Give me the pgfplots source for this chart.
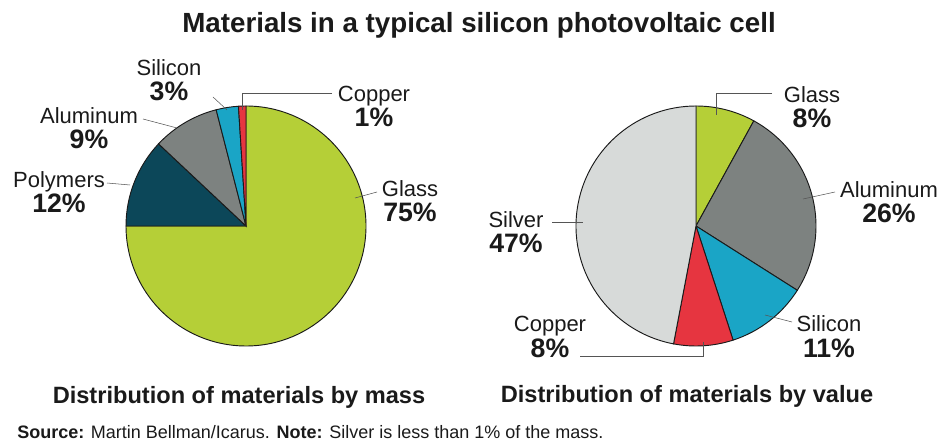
\documentclass[border=0pt]{standalone}
\usepackage{pgfplots}
\pgfplotsset{compat=1.18}
\usepackage{pgfplotstable}
\usepackage{fontspec}
\setmainfont{Liberation Sans}

\definecolor{glass}{HTML}{B5CF37}
\definecolor{polymers}{HTML}{0C4759}
\definecolor{aluminum}{HTML}{7D8280}
\definecolor{silicon}{HTML}{1AA5C6}
\definecolor{copper}{HTML}{E63540}
\definecolor{silver}{HTML}{D7DAD9}
\definecolor{leader}{HTML}{555555}
\definecolor{ink}{HTML}{1A1A1A}

% shares, clockwise from 12 o'clock
\pgfplotstableread{
name     value color
Glass    75    glass
Polymers 12    polymers
Aluminum 9     aluminum
Silicon  3     silicon
Copper   1     copper
}\massdata
\pgfplotstableread{
name     value color
Glass    8     glass
Aluminum 26    aluminum
Silicon  11    silicon
Copper   8     copper
Silver   47    silver
}\valuedata

% cumulative angles: \<prefix>start<i>, \<prefix>delta<i>, \<prefix>color<i>
\newcommand\prepie[2]{%
  \pgfplotstablegetrowsof{#1}%
  \pgfmathtruncatemacro\lastrow{\pgfplotsretval-1}%
  \gdef\cumangle{90}%
  \foreach \i in {0,...,\lastrow}{%
    \pgfplotstablegetelem{\i}{value}\of{#1}%
    \pgfmathsetmacro\dang{-3.6*\pgfplotsretval}%
    \expandafter\xdef\csname #2start\i\endcsname{\cumangle}%
    \expandafter\xdef\csname #2delta\i\endcsname{\dang}%
    \pgfplotstablegetelem{\i}{color}\of{#1}%
    \expandafter\xdef\csname #2color\i\endcsname{\pgfplotsretval}%
    \pgfmathsetmacro\tmp{\cumangle+\dang}%
    \xdef\cumangle{\tmp}%
  }}
\prepie{\massdata}{m}
\prepie{\valuedata}{v}

% one wedge, radius 120 axis units (= 90pt)
\newcommand\slice[4]{%
  \edef\temp{\noexpand\fill[draw=ink, line width=0.7pt, fill=\csname #1color#2\endcsname]
    (axis cs:#3,#4) -- (axis cs:{#3+120*cos(\csname #1start#2\endcsname)},{#4+120*sin(\csname #1start#2\endcsname)})
    arc[start angle=\csname #1start#2\endcsname, delta angle=\csname #1delta#2\endcsname, radius=90pt] -- cycle;}%
  \temp}

\newcommand\lab[4]{% x, baseline of name, name, percent
  \node[anchor=base, font=\fontsize{16.5}{18}\selectfont, text=ink] at (axis cs:#1,#2) {#3};
  \node[anchor=base, font=\fontsize{20}{22}\selectfont\bfseries, text=ink] at (axis cs:#1,#2-25) {#4};}

\begin{document}
\begin{tikzpicture}
\begin{axis}[
    x=0.75pt, y=0.75pt,
    xmin=0, xmax=945, ymin=0, ymax=446,
    hide axis, clip=false,
    leader/.style={draw=leader, line width=0.8pt},
]
\path (axis cs:0,0) rectangle (axis cs:945,446);

\pgfplotsinvokeforeach{0,...,4}{\slice{m}{#1}{246}{220}}
\pgfplotsinvokeforeach{0,...,4}{\slice{v}{#1}{696}{220}}

% mass labels
\draw[leader] (axis cs:213,349) -- (axis cs:227,336);
\draw[leader] (axis cs:143,327) -- (axis cs:177,318);
\draw[leader] (axis cs:107,263) -- (axis cs:130,261);
\draw[leader] (axis cs:332,353) -- (axis cs:242.5,353) -- (axis cs:242.5,336);
\draw[leader] (axis cs:377,254) -- (axis cs:355,248);
\lab{169}{370}{Silicon}{3\%}
\lab{89}{322}{Aluminum}{9\%}
\lab{59}{258}{Polymers}{12\%}
\lab{374}{344}{Copper}{1\%}
\lab{410}{249}{Glass}{75\%}

% value labels
\draw[leader] (axis cs:772,353) -- (axis cs:716,353) -- (axis cs:716,331);
\draw[leader] (axis cs:835,254) -- (axis cs:803,247);
\draw[leader] (axis cs:552,224) -- (axis cs:583,224);
\draw[leader] (axis cs:580,90) -- (axis cs:703,90) -- (axis cs:703,104);
\draw[leader] (axis cs:792,124) -- (axis cs:765,131);
\lab{812}{343}{Glass}{8\%}
\lab{889}{248}{Aluminum}{26\%}
\lab{516}{218}{Silver}{47\%}
\lab{550}{114}{Copper}{8\%}
\lab{829}{114}{Silicon}{11\%}

\node[anchor=base, font=\fontsize{20.8}{24}\selectfont\bfseries, text=ink]
  at (axis cs:479,413) {Materials in a typical silicon photovoltaic cell};
\node[anchor=base, font=\fontsize{17.7}{20}\selectfont\bfseries, text=ink]
  at (axis cs:239,43) {Distribution of materials by mass};
\node[anchor=base, font=\fontsize{17.7}{20}\selectfont\bfseries, text=ink]
  at (axis cs:687,44) {Distribution of materials by value};
\node[anchor=base west, font=\fontsize{13.5}{16}\selectfont, text=ink, inner xsep=0pt]
  at (axis cs:17,8) {\textbf{Source:} Martin Bellman/Icarus. \textbf{Note:} Silver is less than 1\% of the mass.};
\end{axis}
\end{tikzpicture}
\end{document}
